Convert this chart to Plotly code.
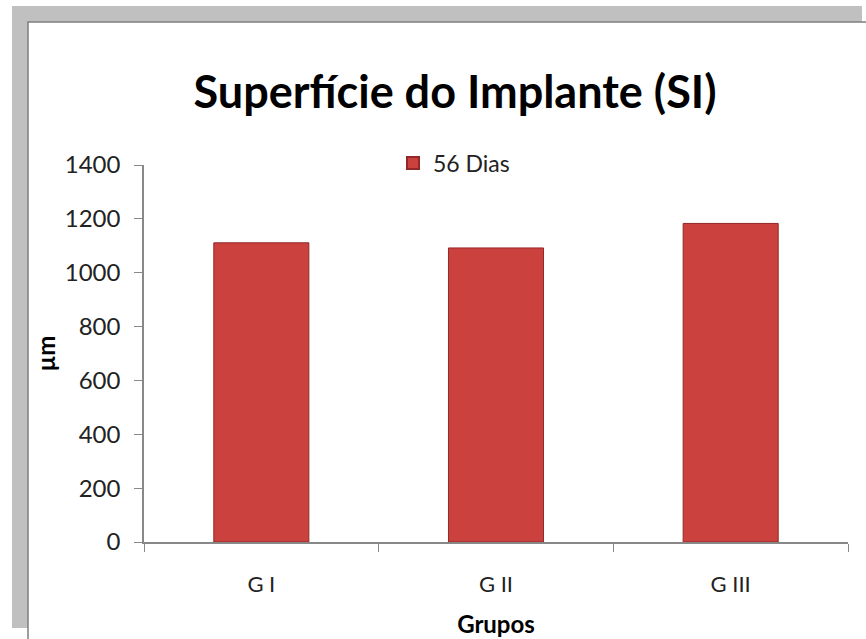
import plotly.graph_objects as go

categories = ["G I", "G II", "G III"]
values_56_dias = [1111, 1092, 1183]
series_name = "56 Dias"
y_ticks = [0, 200, 400, 600, 800, 1000, 1200, 1400]

W, H = 866, 639
L, R, T, B = 144, 18, 165, 97
PW, PH = W - L - R, H - T - B


def px_x(px):
    return (px - L) / PW


def px_y(py):
    return (H - B - py) / PH


FONT = "Lato"

fig = go.Figure()
fig.add_trace(go.Bar(
    x=categories,
    y=values_56_dias,
    name=series_name,
    marker=dict(color="#CA413E", line=dict(color="#922828", width=1)),
    width=0.405,
))

shapes = [
    dict(type="rect", xref="paper", yref="paper", layer="below",
         x0=px_x(12), x1=px_x(862), y0=px_y(628), y1=px_y(6),
         fillcolor="#C0C0C0", line=dict(width=0)),
    dict(type="rect", xref="paper", yref="paper", layer="below",
         x0=px_x(28), x1=px_x(880), y0=px_y(660), y1=px_y(22),
         fillcolor="white", line=dict(color="#7F7F7F", width=1.5)),
]

fig.update_layout(
    width=W, height=H,
    margin=dict(l=L, r=R, t=T, b=B, autoexpand=False),
    paper_bgcolor="white",
    plot_bgcolor="rgba(0,0,0,0)",
    shapes=shapes,
    showlegend=True,
    title=dict(text="<b>Superfície do Implante (SI)</b>",
               font=dict(family=FONT, size=45, color="black"),
               x=455 / W, xanchor="center", y=1 - 92 / H, yanchor="middle"),
    legend=dict(orientation="h", x=px_x(393), xanchor="left",
                y=px_y(163), yanchor="middle",
                font=dict(family=FONT, size=23, color="#222"),
                bgcolor="rgba(0,0,0,0)", itemsizing="constant"),
    bargap=0.6,
    xaxis=dict(
        showline=True, linecolor="#888888", linewidth=1.5,
        ticks="outside", tickson="boundaries", ticklen=8, tickcolor="#888888",
        tickfont=dict(family=FONT, size=22, color="#222"),
        ticklabelstandoff=22,
        title=dict(text="<b>Grupos</b>", font=dict(family=FONT, size=24, color="black"),
                   standoff=20),
        showgrid=False, automargin=False,
        mirror=False,
    ),
    yaxis=dict(
        range=[0, 1400], tickvals=y_ticks,
        showline=True, linecolor="#888888", linewidth=1.5,
        ticks="outside", ticklen=8, tickcolor="#888888",
        tickfont=dict(family=FONT, size=24, color="#222"),
        ticklabelstandoff=9,
        title=dict(text="<b>µm</b>", font=dict(family=FONT, size=24, color="black"),
                   standoff=2),
        showgrid=False, zeroline=False, automargin=False,
    ),
)

fig.write_html("out.html", config={"displayModeBar": False},
               post_script="document.body.style.margin='0';")
